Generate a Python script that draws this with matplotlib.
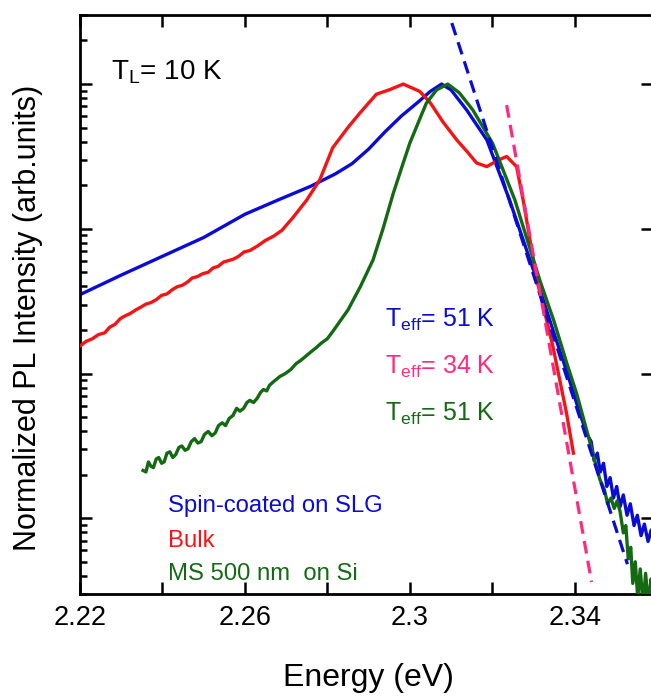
import matplotlib
matplotlib.use('Agg')
import matplotlib.pyplot as plt
from matplotlib.ticker import FixedLocator, LogLocator, NullFormatter

plt.rcParams['font.family'] = ['Liberation Sans', 'DejaVu Sans']
plt.rcParams['mathtext.fontset'] = 'custom'
plt.rcParams['mathtext.rm'] = 'Liberation Sans'
plt.rcParams['mathtext.it'] = 'Liberation Sans'
plt.rcParams['mathtext.default'] = 'regular'

# --- data (energy in eV, normalized PL intensity) ---
spin_E = [2.220, 2.230, 2.240, 2.250, 2.260, 2.268, 2.276, 2.282, 2.286, 2.290,
          2.294, 2.298, 2.302, 2.305, 2.3077, 2.310, 2.3138, 2.3187, 2.3242, 2.3308,
          2.3347, 2.338, 2.3412, 2.3430, 2.3440, 2.3447, 2.3455, 2.3462, 2.3470, 2.3478,
          2.3486, 2.3494, 2.3502, 2.3510, 2.3518, 2.3527, 2.3535, 2.3544, 2.3552, 2.3561,
          2.3569, 2.3578, 2.3586, 2.3592]
spin_I = [0.0351, 0.0479, 0.0646, 0.0871, 0.126, 0.158, 0.197, 0.240, 0.282, 0.355,
          0.468, 0.603, 0.750, 0.891, 1.0, 0.912, 0.662, 0.411, 0.158, 0.0445,
          0.0201, 0.0105, 0.00537, 0.00380, 0.00339, 0.00251, 0.00282, 0.00209, 0.00240, 0.00166,
          0.00191, 0.00138, 0.00166, 0.00120, 0.00145, 0.00105, 0.00126, 0.000891, 0.00105, 0.000759,
          0.000912, 0.000692, 0.000832, 0.000661]

bulk_E = [2.2200, 2.2215, 2.2230, 2.2245, 2.2260, 2.2272, 2.2285, 2.2298, 2.2310, 2.2322,
          2.2335, 2.2348, 2.2360, 2.2372, 2.2385, 2.2398, 2.2411, 2.2424, 2.2436, 2.2448,
          2.2460, 2.2472, 2.2485, 2.2498, 2.2511, 2.2523, 2.2535, 2.2548, 2.2560, 2.2572,
          2.2585, 2.2598, 2.2612, 2.2630, 2.2650, 2.2670, 2.2690, 2.2717, 2.2750, 2.2782,
          2.2813, 2.2850, 2.2879, 2.2919, 2.2950, 2.2984, 2.3024, 2.3050, 2.3080, 2.3114,
          2.3140, 2.3162, 2.3187, 2.3211, 2.3235, 2.3259, 2.3275, 2.3308, 2.3347, 2.3380,
          2.3397]
bulk_I = [0.0155, 0.0167, 0.0174, 0.0186, 0.0191, 0.0209, 0.0219, 0.0240, 0.0251, 0.0260,
          0.0275, 0.0288, 0.0302, 0.0309, 0.0324, 0.0347, 0.0355, 0.0380, 0.0398, 0.0407,
          0.0427, 0.0457, 0.0468, 0.0490, 0.0501, 0.0537, 0.0550, 0.0589, 0.0603, 0.0617,
          0.0646, 0.0692, 0.0708, 0.0759, 0.0832, 0.0891, 0.0977, 0.120, 0.158, 0.219,
          0.363, 0.501, 0.631, 0.851, 0.912, 1.0, 0.891, 0.741, 0.550, 0.411,
          0.339, 0.285, 0.269, 0.295, 0.316, 0.269, 0.158, 0.0447, 0.0155, 0.00537,
          0.00282]

ms_E = [2.2353, 2.2360, 2.2366, 2.2372, 2.2378, 2.2385, 2.2391, 2.2398, 2.2404, 2.2411,
        2.2418, 2.2425, 2.2432, 2.2440, 2.2447, 2.2455, 2.2462, 2.2470, 2.2478, 2.2486,
        2.2494, 2.2502, 2.2511, 2.2520, 2.2528, 2.2536, 2.2545, 2.2553, 2.2562, 2.2571,
        2.2580, 2.2588, 2.2597, 2.2605, 2.2612, 2.2621, 2.2630, 2.2638, 2.2645, 2.2653,
        2.2660, 2.2672, 2.2685, 2.2698, 2.2712, 2.2724, 2.2735, 2.2748, 2.2760, 2.2773,
        2.2785, 2.2800, 2.2813, 2.2850, 2.2880, 2.2911,
        2.2935, 2.2960, 2.2980, 2.3000, 2.3020, 2.3040, 2.3065, 2.3092, 2.3120, 2.3153,
        2.3201, 2.3255, 2.3315, 2.3350, 2.3380, 2.3405, 2.3429, 2.3445, 2.3461, 2.3472,
        2.3480, 2.3488, 2.3496, 2.3503, 2.3510, 2.3518, 2.3524, 2.3530, 2.3536, 2.3541,
        2.3547, 2.3553, 2.3559, 2.3566, 2.3572, 2.3579, 2.3585, 2.3592]
ms_I = [0.00214, 0.00209, 0.00245, 0.00229, 0.00224, 0.00257, 0.00263, 0.00240, 0.00245, 0.00282,
        0.00288, 0.00263, 0.00275, 0.00309, 0.00316, 0.00295, 0.00302, 0.00339, 0.00355, 0.00331,
        0.00339, 0.00380, 0.00398, 0.00372, 0.00389, 0.00437, 0.00457, 0.00437, 0.00490, 0.00513,
        0.00575, 0.00550, 0.00575, 0.00631, 0.00653, 0.00631, 0.00676, 0.00741, 0.00776, 0.00759,
        0.00832, 0.00891, 0.00955, 0.0100, 0.0107, 0.0117, 0.0123, 0.0132, 0.0141, 0.0151,
        0.0162, 0.0174, 0.0195, 0.0275, 0.0398, 0.0611,
        0.100, 0.176, 0.263, 0.390, 0.537, 0.736, 0.912, 1.0, 0.871, 0.662,
        0.389, 0.158, 0.0445, 0.0229, 0.0120, 0.00724, 0.00407, 0.00275, 0.00186, 0.00158,
        0.00126, 0.00138, 0.00117, 0.00132, 0.00112, 0.000794, 0.000891, 0.000525, 0.000631, 0.000355,
        0.000501, 0.000282, 0.000447, 0.000251, 0.000417, 0.000251, 0.000380, 0.000251]

# exponential tail fits (end points of the dashed lines)
fit51_E = [2.3102, 2.3528]
fit51_I = [2.64, 0.000482]
fit34_E = [2.3235, 2.3441]
fit34_I = [0.716, 0.000363]

x_ticks = [2.22, 2.24, 2.26, 2.28, 2.30, 2.32, 2.34]
x_tick_labels = ['2.22', '', '2.26', '', '2.3', '', '2.34']

blue = '#0b0bd6'
red = '#f41414'
green = '#136a13'
pink = '#ff2a80'

fig = plt.figure(figsize=(6.51, 6.98), dpi=100)
ax = fig.add_axes([80 / 651, 1 - 594 / 698, 573 / 651, 579 / 698])

ax.plot(spin_E, spin_I, color=blue, lw=2.4, zorder=2)
ax.plot(bulk_E, bulk_I, color=red, lw=2.4, zorder=3)
ax.plot(ms_E, ms_I, color=green, lw=2.4, zorder=4)
ax.plot(fit51_E, fit51_I, color=blue, lw=2.3, dashes=(4, 2.3), zorder=5)
ax.plot(fit34_E, fit34_I, color=pink, lw=2.3, dashes=(4, 2.3), zorder=5)

ax.set_yscale('log')
ax.set_xlim(2.22, 2.359)
ax.set_ylim(3e-4, 3)

ax.xaxis.set_major_locator(FixedLocator(x_ticks))
ax.set_xticklabels(x_tick_labels)
ax.yaxis.set_major_locator(LogLocator(base=10, numticks=10))
ax.yaxis.set_minor_locator(LogLocator(base=10, subs=range(2, 10), numticks=20))
ax.yaxis.set_major_formatter(NullFormatter())
ax.yaxis.set_minor_formatter(NullFormatter())

ax.tick_params(which='both', direction='in', top=True, right=True, width=1.8)
ax.tick_params(which='major', length=8.5, labelsize=19.5, pad=8)
ax.tick_params(which='minor', length=5)
ax.tick_params(axis='y', which='minor', right=False)
for sp in ax.spines.values():
    sp.set_linewidth(2)

ax.text(0.054, 0.889, '$T_L$= 10 K', transform=ax.transAxes, fontsize=20, va='baseline')

ax.text(0.532, 0.461, '$T_{eff}$= 51 K', color=blue, transform=ax.transAxes, fontsize=18, va='baseline')
ax.text(0.532, 0.380, '$T_{eff}$= 34 K', color=pink, transform=ax.transAxes, fontsize=18, va='baseline')
ax.text(0.532, 0.299, '$T_{eff}$= 51 K', color=green, transform=ax.transAxes, fontsize=18, va='baseline')

ax.text(0.1536, 0.1416, 'Spin-coated on SLG', color=blue, transform=ax.transAxes, fontsize=17.2, va='baseline')
ax.text(0.1536, 0.0812, 'Bulk', color=red, transform=ax.transAxes, fontsize=17.2, va='baseline')
ax.text(0.1536, 0.0242, 'MS 500 nm  on Si', color=green, transform=ax.transAxes, fontsize=17.2, va='baseline')

fig.text(368 / 651, 1 - 686 / 698, 'Energy (eV)', ha='center', va='baseline', fontsize=23)
fig.text(28 / 651, 1 - 318 / 698, 'Normalized PL Intensity (arb.units)', rotation=90,
         ha='center', va='center', fontsize=22)

fig.savefig('out.png', dpi=100)
